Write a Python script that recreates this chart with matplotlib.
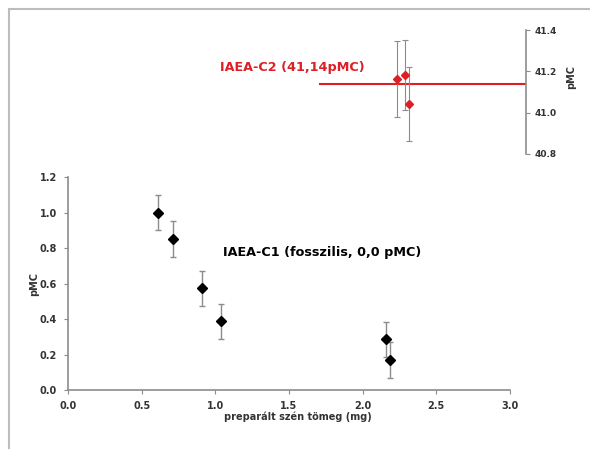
import matplotlib.pyplot as plt
from matplotlib.lines import Line2D

# IAEA-C1 (fosszilis)
c1_mass = [0.613, 0.715, 0.907, 1.036, 2.156, 2.186]
c1_pmc = [1.00, 0.85, 0.573, 0.387, 0.286, 0.169]
c1_err = [0.10, 0.10, 0.10, 0.10, 0.10, 0.10]

# IAEA-C2 (41,14 pMC)
c2_mass = [2.231, 2.287, 2.315]
c2_pmc = [41.164, 41.182, 41.042]
c2_err = [0.185, 0.17, 0.177]
c2_ref = 41.14
c2_line_x = [1.71, 3.11]

main_xticks = [0.0, 0.5, 1.0, 1.5, 2.0, 2.5, 3.0]
main_yticks = [0.0, 0.2, 0.4, 0.6, 0.8, 1.0, 1.2]
top_yticks = [40.8, 41.0, 41.2, 41.4]

gray = '#8c8c8c'
txt = '#333333'
red = '#dd2027'

fig = plt.figure(figsize=(5.9, 4.5), dpi=100)

# keret
fig.add_artist(Line2D([0.0153, 1.0], [0.98, 0.98], color='#bdbdbd', lw=1.5, transform=fig.transFigure))
fig.add_artist(Line2D([0.0153, 0.0153], [0.004, 0.98], color='#bdbdbd', lw=1.5, transform=fig.transFigure))

# fő grafikon
ax = fig.add_axes([0.1153, 0.1333, 0.749, 0.4733])
ax.errorbar(c1_mass, c1_pmc, yerr=c1_err, fmt='D', color='black', ms=5,
            ecolor=gray, elinewidth=1, capsize=2, capthick=1)
ax.set_xlim(0, 3.0)
ax.set_ylim(0, 1.2)
ax.set_xticks(main_xticks)
ax.set_yticks(main_yticks)
ax.set_xticklabels([f'{v:.1f}' for v in main_xticks])
ax.set_yticklabels([f'{v:.1f}' for v in main_yticks])
for s in ['top', 'right']:
    ax.spines[s].set_visible(False)
for s in ['left', 'bottom']:
    ax.spines[s].set_color(gray)
    ax.spines[s].set_linewidth(1.2)
ax.tick_params(direction='out', length=3, color=gray, labelsize=7, labelcolor=txt, pad=5)
for lab in ax.get_xticklabels() + ax.get_yticklabels():
    lab.set_fontweight('bold')
ax.set_xlabel('preparált szén tömeg (mg)', fontsize=7, fontweight='bold', color=txt, labelpad=0)
ax.xaxis.set_label_coords(0.52, -0.1)
ax.set_ylabel('pMC', fontsize=7, fontweight='bold', color=txt)
ax.yaxis.set_label_coords(-0.066, 0.5)
ax.text(1.05, 0.755, 'IAEA-C1 (fosszilis, 0,0 pMC)', fontsize=9.2, fontweight='bold', color='black')

# felső grafikon
ax2 = fig.add_axes([0.1153, 0.6578, 0.7762, 0.2755])
ax2.set_xlim(0, 3.11)
ax2.set_ylim(40.8, 41.4)
ax2.plot(c2_line_x, [c2_ref, c2_ref], color=red, lw=1.5)
ax2.errorbar(c2_mass, c2_pmc, yerr=c2_err, fmt='D', color=red, ms=4.5,
             ecolor=gray, elinewidth=0.8, capsize=2, capthick=0.8)
for s in ['top', 'left', 'bottom']:
    ax2.spines[s].set_visible(False)
ax2.spines['right'].set_color(gray)
ax2.spines['right'].set_linewidth(1.2)
ax2.patch.set_alpha(0)
ax2.set_xticks([])
ax2.yaxis.tick_right()
ax2.yaxis.set_label_position('right')
ax2.set_yticks(top_yticks)
ax2.set_yticklabels([f'{v:.1f}' for v in top_yticks])
ax2.tick_params(direction='out', length=3, color=gray, labelsize=6.5, labelcolor=txt, pad=3)
for lab in ax2.get_yticklabels():
    lab.set_fontweight('bold')
ax2.set_ylabel('pMC', fontsize=7, fontweight='bold', color=txt, rotation=90)
ax2.yaxis.set_label_coords(1.088, 0.62)
ax2.text(1.03, 41.2, 'IAEA-C2 (41,14pMC)', fontsize=9.2, fontweight='bold', color=red)

fig.savefig('out.png', dpi=100)
